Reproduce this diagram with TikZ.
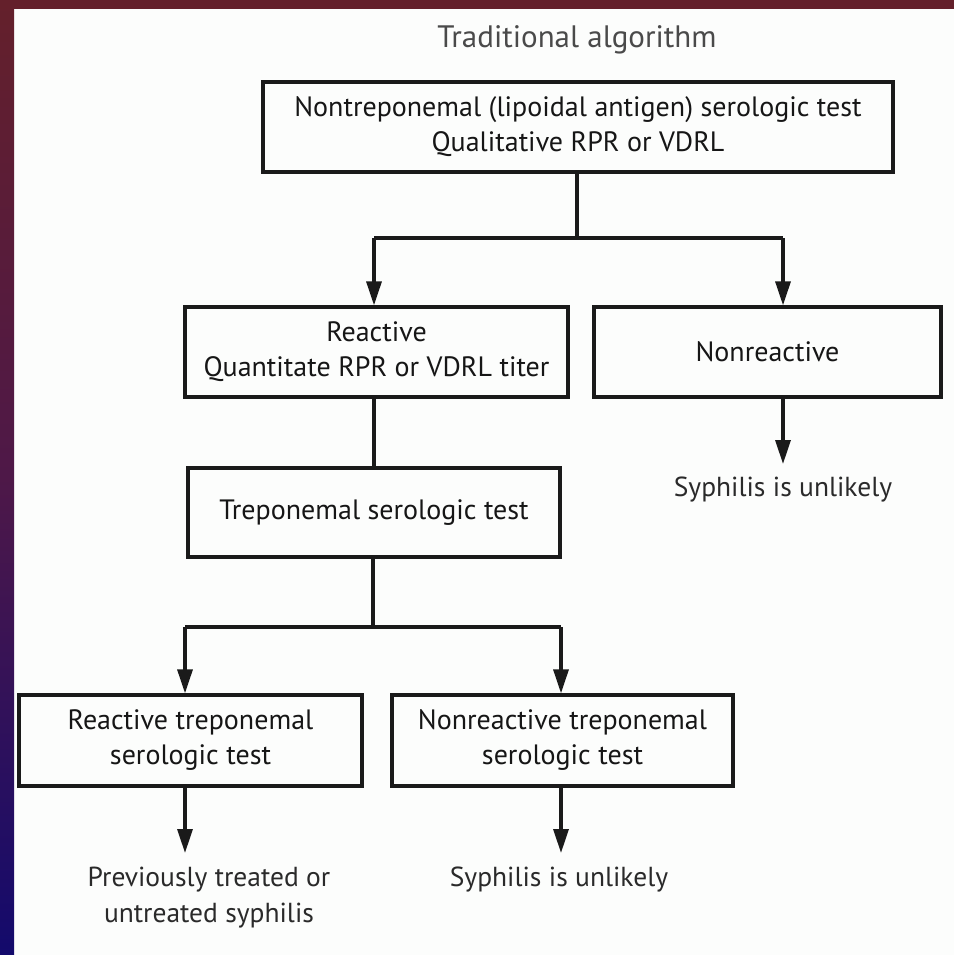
\documentclass[tikz,border=0pt]{standalone}
\usepackage{fontspec}
\setmainfont{PT Sans}
\usetikzlibrary{arrows.meta,calc}
\definecolor{ink}{HTML}{1A1A1A}
\definecolor{txt}{HTML}{161616}
\definecolor{soft}{HTML}{2A2A2A}
\definecolor{ttl}{HTML}{4A4A4A}
\definecolor{frameA}{HTML}{64202B}
\definecolor{frameB}{HTML}{4E1848}
\definecolor{frameC}{HTML}{130A6C}
\definecolor{paper}{HTML}{FCFDFC}
\begin{document}
\begin{tikzpicture}[x=1pt,y=-1pt,
  box/.style={draw=ink,line width=3.3pt,fill=paper,inner sep=0pt,align=center,
    text=txt,font=\fontsize{28}{35}\selectfont},
  free/.style={inner sep=0pt,align=center,text=soft,font=\fontsize{27.5}{36}\selectfont},
  conn/.style={draw=ink,line width=3.3pt},
  arr/.style={conn,-{Triangle[width=15pt,length=24pt]}}]
\useasboundingbox (0,0) rectangle (954,955);
\fill[paper] (0,0) rectangle (954,955);
\shade[top color=frameA,bottom color=frameC,middle color=frameB] (0,0) rectangle (14,955);
\fill[frameA] (0,0) rectangle (954,9);
\node[free,text=ttl,font=\fontsize{31}{36}\selectfont] (title) at (577,40) {Traditional algorithm};
\node[box,minimum width=630pt,minimum height=90pt] (top) at (578,127)
  {Nontreponemal (lipoidal antigen) serologic test\\Qualitative RPR or VDRL};
\node[box,minimum width=383pt,minimum height=90pt] (reac) at (376.5,352)
  {Reactive\\Quantitate RPR or VDRL titer};
\node[box,minimum width=347pt,minimum height=90pt] (nonr) at (767.5,352) {Nonreactive};
\node[box,minimum width=372pt,minimum height=89pt] (trep) at (374,512.5) {Treponemal serologic test};
\node[box,minimum width=343pt,minimum height=91pt] (rtrep) at (190.5,740.5)
  {Reactive treponemal\\serologic test};
\node[box,minimum width=341pt,minimum height=91pt] (ntrep) at (562.5,740.5)
  {Nonreactive treponemal\\serologic test};
\node[free] (unl1) at (783,490) {Syphilis is unlikely};
\node[free] (prev) at (209,898) {Previously treated or\\untreated syphilis};
\node[free] (unl2) at (559,880) {Syphilis is unlikely};
% split points
\coordinate (s1) at (577,238);
\coordinate (xa) at (374,0);
\coordinate (xb) at (783,0);
\coordinate (s2) at (373,627);
\coordinate (xc) at (185,0);
\coordinate (xd) at (561,0);
\coordinate (e1) at (783,464);
\coordinate (e2) at (185,853);
\coordinate (e3) at (561,853);
\draw[conn] (top.south -| s1) -- (s1);
\draw[conn] (xa |- s1) -- (xb |- s1);
\draw[arr] (xa |- s1) -- (reac.north -| xa);
\draw[arr] (xb |- s1) -- (nonr.north -| xb);
\draw[conn] (reac.south -| xa) -- (trep.north -| xa);
\draw[arr] (nonr.south -| xb) -- (e1);
\draw[conn] (trep.south -| s2) -- (s2);
\draw[conn] (xc |- s2) -- (xd |- s2);
\draw[arr] (xc |- s2) -- (rtrep.north -| xc);
\draw[arr] (xd |- s2) -- (ntrep.north -| xd);
\draw[arr] (rtrep.south -| xc) -- (e2);
\draw[arr] (ntrep.south -| xd) -- (e3);
\end{tikzpicture}
\end{document}
